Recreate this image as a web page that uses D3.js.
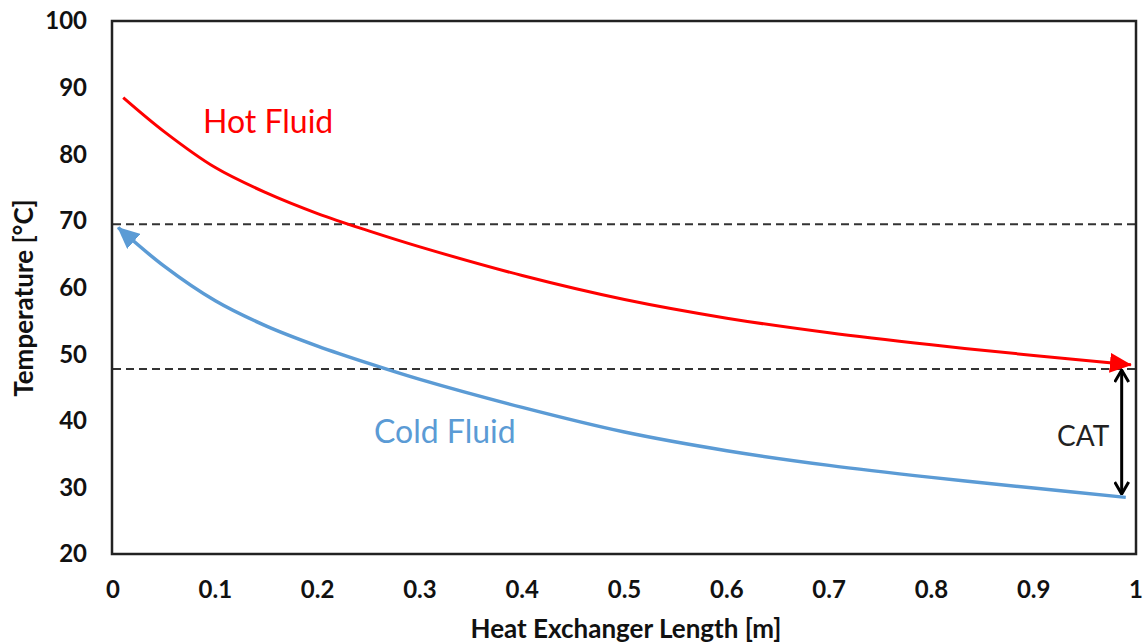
<!DOCTYPE html>
<html>
<head>
<meta charset="utf-8">
<script src="https://cdn.jsdelivr.net/npm/d3@7"></script>
<style>
  body { margin:0; background:#fff; }
  text { font-family: Lato, "Open Sans", sans-serif; }
  .tick { font-weight:bold; font-size:24px; fill:#111; }
  .titulo { font-weight:bold; font-size:26px; fill:#111; }
</style>
</head>
<body>
<div id="vis"></div>
<script>
var w = 1143, h = 644;

// datos
var largo = [0.01, 0.05, 0.1, 0.15, 0.2, 0.25, 0.3, 0.4, 0.5, 0.6, 0.7, 0.8, 0.9, 0.995];
var caliente = [88.5, 83.4, 78.0, 74.2, 71.1, 68.5, 66.1, 61.8, 58.2, 55.4, 53.2, 51.4, 49.8, 48.4];
var largoFrio = [0.005, 0.05, 0.1, 0.15, 0.2, 0.25, 0.3, 0.4, 0.5, 0.6, 0.7, 0.8, 0.9, 0.99];
var frio = [69.0, 63.2, 58.0, 54.2, 51.2, 48.6, 46.2, 42.0, 38.3, 35.5, 33.3, 31.5, 29.9, 28.5];
var xTicks = [0, 0.1, 0.2, 0.3, 0.4, 0.5, 0.6, 0.7, 0.8, 0.9, 1];
var yTicks = [20, 30, 40, 50, 60, 70, 80, 90, 100];
var lineasGuia = [69.5, 47.75];
var cat = {x: 0.986, y0: 47.6, y1: 29.0};

var svg = d3.select("div#vis").append("svg")
  .attr("width", w)
  .attr("height", h);

var x = d3.scaleLinear().domain([0, 1]).range([113, 1136]);
var y = d3.scaleLinear().domain([20, 100]).range([554, 21]);

var defs = svg.append("defs");
function flecha(id, color) {
  defs.append("marker")
    .attr("id", id)
    .attr("markerUnits", "userSpaceOnUse")
    .attr("viewBox", "0 0 22 20")
    .attr("markerWidth", 22).attr("markerHeight", 20)
    .attr("refX", 21).attr("refY", 10)
    .attr("orient", "auto-start-reverse")
    .append("path").attr("d", "M0,0 L22,10 L0,20 Z").style("fill", color);
}
flecha("rojo", "#ff0000");
flecha("azul", "#5b9bd5");
defs.append("marker")
  .attr("id", "negro")
  .attr("markerUnits", "userSpaceOnUse")
  .attr("viewBox", "0 0 14 16")
  .attr("markerWidth", 14).attr("markerHeight", 16)
  .attr("refX", 13).attr("refY", 8)
  .attr("orient", "auto-start-reverse")
  .append("path").attr("d", "M1,1 L13,8 L1,15")
  .style("fill", "none").style("stroke", "#000").style("stroke-width", 3);

// lineas punteadas
svg.selectAll("line.guia").data(lineasGuia).enter().append("line")
  .attr("class", "guia")
  .attr("x1", x(0)).attr("x2", x(1))
  .attr("y1", function(d) { return y(d); })
  .attr("y2", function(d) { return y(d); })
  .style("stroke", "#333").style("stroke-width", 2)
  .style("stroke-dasharray", "8,5");

var linea = d3.line()
  .x(function(d) { return x(d[0]); })
  .y(function(d) { return y(d[1]); })
  .curve(d3.curveCatmullRom.alpha(0.5));

svg.append("path")
  .datum(d3.zip(largo, caliente))
  .attr("d", linea)
  .style("fill", "none").style("stroke", "#ff0000").style("stroke-width", 3)
  .attr("marker-end", "url(#rojo)");

svg.append("path")
  .datum(d3.zip(largoFrio, frio))
  .attr("d", linea)
  .style("fill", "none").style("stroke", "#5b9bd5").style("stroke-width", 3.5)
  .attr("marker-start", "url(#azul)");

// flecha CAT
svg.append("line")
  .attr("x1", x(cat.x)).attr("x2", x(cat.x))
  .attr("y1", y(cat.y0)).attr("y2", y(cat.y1))
  .style("stroke", "#000").style("stroke-width", 3)
  .attr("marker-start", "url(#negro)")
  .attr("marker-end", "url(#negro)");

// marco
svg.append("rect")
  .attr("x", x(0) - 1).attr("y", y(100))
  .attr("width", x(1) - x(0) + 1).attr("height", y(20) - y(100))
  .style("fill", "none").style("stroke", "#222").style("stroke-width", 2.5);

svg.selectAll("text.ty").data(yTicks).enter().append("text")
  .attr("class", "tick ty")
  .attr("x", 87)
  .attr("y", function(d) { return y(d); })
  .attr("dy", "0.35em")
  .attr("text-anchor", "end")
  .text(function(d) { return d; });

svg.selectAll("text.tx").data(xTicks).enter().append("text")
  .attr("class", "tick tx")
  .attr("x", function(d) { return x(d); })
  .attr("y", 590)
  .attr("dy", "0.35em")
  .attr("text-anchor", "middle")
  .text(function(d) { return d; });

svg.append("text").attr("class", "titulo")
  .attr("x", 626).attr("y", 638)
  .attr("text-anchor", "middle")
  .text("Heat Exchanger Length [m]");

svg.append("text").attr("class", "titulo")
  .attr("transform", "translate(33,298) rotate(-90)")
  .attr("text-anchor", "middle")
  .text("Temperature [°C]");

svg.append("text")
  .attr("x", 203).attr("y", 133)
  .style("font-size", "32px").style("fill", "#ff0000")
  .text("Hot Fluid");

svg.append("text")
  .attr("x", 374).attr("y", 443)
  .style("font-size", "32px").style("fill", "#5b9bd5")
  .text("Cold Fluid");

svg.append("text")
  .attr("x", 1057).attr("y", 446)
  .style("font-size", "28px").style("fill", "#222")
  .text("CAT");
</script>
</body>
</html>
